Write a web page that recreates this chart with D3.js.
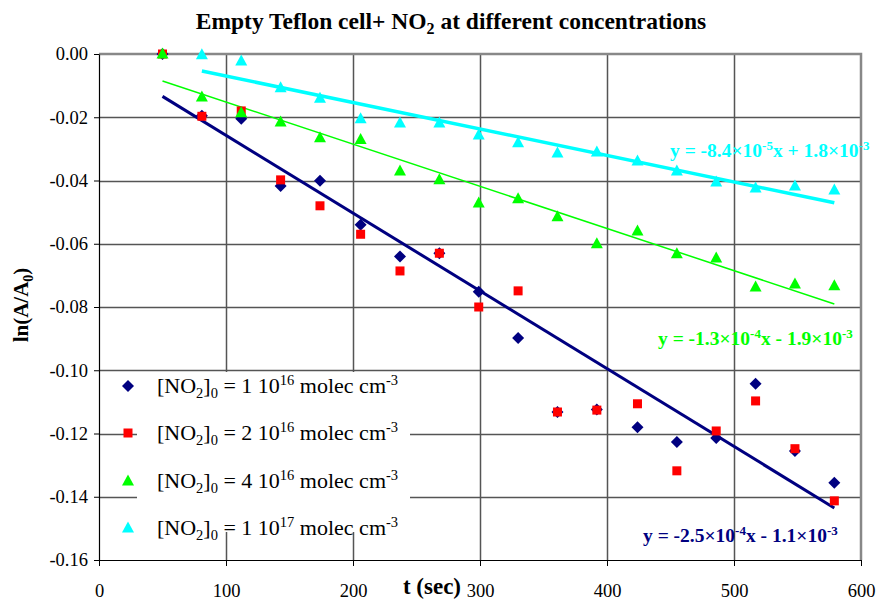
<!DOCTYPE html>
<html><head><meta charset="utf-8">
<script src="https://cdn.jsdelivr.net/npm/d3@7"></script>
<style>body{margin:0;background:#fff} svg{display:block} svg text{font-family:"Liberation Serif",Tinos,"Times New Roman","DejaVu Serif",serif !important}</style>
</head><body><svg id="c" width="877" height="601"></svg>
<script>
const times = [50,81,112,143,174,206,237,268,299,330,361,392,424,455,486,517,548,579];
const s1 = [0,-0.0195,-0.0205,-0.0417,-0.0401,-0.054,-0.064,-0.063,-0.0752,-0.0898,-0.1132,-0.1124,-0.118,-0.1227,-0.1214,-0.1043,-0.1255,-0.1356];
const s2 = [0,-0.0197,-0.018,-0.0398,-0.048,-0.057,-0.0686,-0.063,-0.080,-0.0749,-0.1132,-0.1126,-0.1106,-0.1318,-0.1192,-0.1097,-0.1248,-0.1413];
const s3 = [0,-0.0136,-0.0186,-0.0215,-0.0265,-0.027,-0.037,-0.0398,-0.0471,-0.0458,-0.0515,-0.060,-0.056,-0.0632,-0.0645,-0.0737,-0.0727,-0.0733];
const s4 = [null,-0.0002,-0.0022,-0.0107,-0.014,-0.0205,-0.0218,-0.0218,-0.0256,-0.0281,-0.0313,-0.031,-0.0338,-0.037,-0.0405,-0.0424,-0.0417,-0.043];
const seriesNames = ["1 10","2 10","4 10","1 10"];
const seriesExp = ["16","16","16","17"];
const colors = ["#000080","#FF0000","#00FF00","#00FFFF"];
const shapes = ["diamond","square","triangle","triangle"];
const trendSlope = [-2.46e-4, null, -1.333e-4, -8.37e-5];
const trendIntercept = [-1.1e-3, null, -1.85e-3, 1.4e-3];
const trendStart = [50, null, 50, 81];
const trendEnd = [579, null, 579, 579];
const trendWidth = [3, 0, 1.5, 3.5];
const eqMain = [["-2.5","-4","x - 1.1","-3"], null, ["-1.3","-4","x - 1.9","-3"], ["-8.4","-5","x + 1.8","-3"]];
const xTicks = [0,100,200,300,400,500,600];
const yTicks = [0,-0.02,-0.04,-0.06,-0.08,-0.10,-0.12,-0.14,-0.16];

const svg = d3.select("#c");
const x = d3.scaleLinear().domain([0,600]).range([99,861]);
const y = d3.scaleLinear().domain([-0.16,0]).range([560,54]);

// gridlines
svg.append("g").selectAll("line").data(yTicks.slice(1,8)).join("line")
  .attr("x1",99).attr("x2",861).attr("y1",d=>Math.round(y(d))+0.5).attr("y2",d=>Math.round(y(d))+0.5)
  .attr("stroke","#555").attr("stroke-width",1.5);
svg.append("g").selectAll("line").data(xTicks.slice(1,6)).join("line")
  .attr("y1",54).attr("y2",560).attr("x1",d=>Math.round(x(d))+0.5).attr("x2",d=>Math.round(x(d))+0.5)
  .attr("stroke","#555").attr("stroke-width",1.5);
// plot border top/right
svg.append("path").attr("d",`M99,${y(0)}H${x(600)}V${y(-0.16)}`).attr("fill","none").attr("stroke","#888").attr("stroke-width",2.5);

// axes
const ax = svg.append("g").attr("transform",`translate(0,${y(-0.16)})`)
  .call(d3.axisBottom(x).tickValues(xTicks).tickFormat(d=>String(d)).tickSize(6).tickPadding(18).tickSizeOuter(0));
const ay = svg.append("g").attr("transform",`translate(${x(0)},0)`)
  .call(d3.axisLeft(y).tickValues(yTicks).tickFormat(d=>d.toFixed(2)).tickSize(5).tickPadding(6).tickSizeOuter(0));
[ax,ay].forEach(a=>{a.attr("font-family",null);
  a.selectAll("text").attr("font-size",18.5).attr("fill","#000");
  a.select(".domain").attr("stroke","#000").attr("stroke-width",1.2);
  a.selectAll(".tick line").attr("stroke","#000");});

// trend lines
trendSlope.forEach((m,i)=>{
  if(m===null) return;
  svg.append("line").attr("x1",x(trendStart[i])).attr("y1",y(m*trendStart[i]+trendIntercept[i]))
    .attr("x2",x(trendEnd[i])).attr("y2",y(m*trendEnd[i]+trendIntercept[i]))
    .attr("stroke",colors[i]).attr("stroke-width",trendWidth[i]);
});

function marker(g, shape, color, cx, cy){
  if(shape==="diamond") g.append("path").attr("d",`M${cx},${cy-6}L${cx+6},${cy}L${cx},${cy+6}L${cx-6},${cy}Z`).attr("fill",color);
  else if(shape==="square") g.append("rect").attr("x",cx-4.5).attr("y",cy-4.5).attr("width",9).attr("height",9).attr("fill",color);
  else g.append("path").attr("d",`M${cx},${cy-6.5}L${cx+6},${cy+4.5}L${cx-6},${cy+4.5}Z`).attr("fill",color);
}
const allSeries=[s1,s2,s3,s4];
allSeries.forEach((s,i)=>{
  const g=svg.append("g");
  s.forEach((v,j)=>{ if(v===null) return; marker(g,shapes[i],colors[i],x(times[j]),y(v)); });
});

// equations
const eqPos = [[643,542],null,[658,345],[670,157]];
eqMain.forEach((e,i)=>{
  if(!e) return;
  const t=svg.append("text").attr("x",eqPos[i][0]).attr("y",eqPos[i][1]).attr("font-size",19.5).attr("font-weight","bold").attr("fill",colors[i]);
  t.append("tspan").text("y = "+e[0]+"×10");
  t.append("tspan").attr("dy",-7).attr("font-size",13).text(e[1]);
  t.append("tspan").attr("dy",7).text(e[2]+"×10");
  t.append("tspan").attr("dy",-7).attr("font-size",13).text(e[3]);
});

// legend
svg.append("rect").attr("x",137).attr("y",372).attr("width",273).attr("height",160).attr("fill","#fff");
const legY=[386,433,481,528];
allSeries.forEach((s,i)=>{
  marker(svg,shapes[i],colors[i],128,legY[i]);
  const t=svg.append("text").attr("x",157).attr("y",legY[i]+7).attr("font-size",22).attr("fill","#000");
  t.append("tspan").text("[NO");
  t.append("tspan").attr("dy",5).attr("font-size",14.5).text("2");
  t.append("tspan").attr("dy",-5).text("]");
  t.append("tspan").attr("dy",5).attr("font-size",14.5).text("0");
  t.append("tspan").attr("dy",-5).text(" = "+seriesNames[i]);
  t.append("tspan").attr("dy",-8).attr("font-size",14.5).text(seriesExp[i]);
  t.append("tspan").attr("dy",8).text(" molec cm");
  t.append("tspan").attr("dy",-8).attr("font-size",14.5).text("-3");
});

// title
const tt=svg.append("text").attr("x",451).attr("y",29).attr("text-anchor","middle").attr("font-size",23.5).attr("font-weight","bold");
tt.append("tspan").text("Empty Teflon cell+ NO");
tt.append("tspan").attr("dy",5).attr("font-size",16).text("2");
tt.append("tspan").attr("dy",-5).text(" at different concentrations");

// axis titles
svg.append("text").attr("x",432).attr("y",594).attr("text-anchor","middle").attr("font-size",23).attr("font-weight","bold").text("t (sec)");
const yt=svg.append("text").attr("transform","translate(28,305) rotate(-90)").attr("text-anchor","middle").attr("font-size",21).attr("font-weight","bold");
yt.append("tspan").text("ln(A/A");
yt.append("tspan").attr("dy",5).attr("font-size",14).text("0");
yt.append("tspan").attr("dy",-5).text(")");
</script></body></html>
